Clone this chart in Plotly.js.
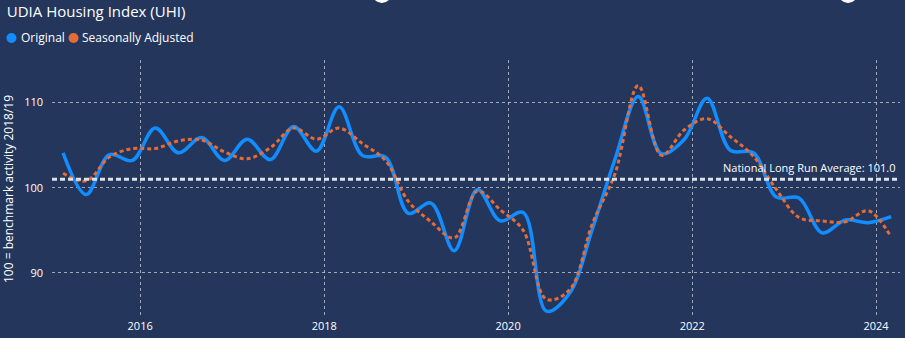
<!DOCTYPE html>
<html>
<head>
<meta charset="utf-8">
<script src="https://cdn.plot.ly/plotly-3.0.1.min.js"></script>
<style>
  html, body { margin: 0; padding: 0; background: #24365C; }
  #chart { width: 905px; height: 338px; }
</style>
</head>
<body>
<div id="chart"></div>
<script>
// Quarterly observation dates
const quarters = [
  '2015-03-01','2015-06-01','2015-09-01','2015-12-01',
  '2016-03-01','2016-06-01','2016-09-01','2016-12-01',
  '2017-03-01','2017-06-01','2017-09-01','2017-12-01',
  '2018-03-01','2018-06-01','2018-09-01','2018-12-01',
  '2019-03-01','2019-06-01','2019-09-01','2019-12-01',
  '2020-03-01','2020-06-01','2020-09-01','2020-12-01',
  '2021-03-01','2021-06-01','2021-09-01','2021-12-01',
  '2022-03-01','2022-06-01','2022-09-01','2022-12-01',
  '2023-03-01','2023-06-01','2023-09-01','2023-12-01',
  '2024-03-01'
];

// Original series
const original = [
  104.1, 99.2, 103.9, 103.2,
  107.0, 104.1, 105.9, 103.2,
  105.7, 103.3, 107.2, 104.3,
  109.5, 103.8, 103.6, 97.0,
  98.2, 92.6, 99.8, 96.1,
  97.1, 85.5, 87.6, 95.2,
  103.4, 110.7, 104.0, 105.7,
  110.5, 104.4, 104.1, 98.9,
  98.8, 94.7, 96.2, 95.9,
  96.6
];

// Seasonally adjusted series
const seasonallyAdjusted = [
  101.7, 100.8, 103.6, 104.6,
  104.6, 105.5, 105.6, 104.2,
  103.4, 104.7, 107.0, 105.7,
  107.0, 105.2, 103.2, 98.4,
  96.0, 94.1, 99.6, 97.4,
  95.0, 86.9, 88.0, 95.8,
  101.7, 112.0, 103.8, 106.8,
  108.1, 106.0, 103.7, 99.8,
  96.5, 96.1, 96.0, 97.3,
  94.2
];

const longRunAverage = 101.0;
const yTicks = [90, 100, 110];

const seriesNames = ['Original', 'Seasonally Adjusted'];
const seriesColors = ['#118DFF', '#E66C37'];

const FONT = 'Segoe UI, Open Sans, sans-serif';

const traces = [
  {
    x: quarters, y: original, name: seriesNames[0], type: 'scatter', mode: 'lines',
    line: { color: seriesColors[0], width: 3.5, shape: 'spline', smoothing: 1 },
    showlegend: false, hoverinfo: 'x+y+name'
  },
  {
    x: quarters, y: seasonallyAdjusted, name: seriesNames[1], type: 'scatter', mode: 'lines',
    line: { color: seriesColors[1], width: 3, shape: 'spline', smoothing: 1, dash: '4px,3px' },
    showlegend: false, hoverinfo: 'x+y+name'
  }
];

const layout = {
  width: 905, height: 338,
  paper_bgcolor: '#24365C', plot_bgcolor: '#24365C',
  margin: { l: 52, r: 5, t: 60, b: 20, pad: 0 },
  font: { family: FONT, color: '#FFFFFF', size: 11 },
  title: {
    text: 'UDIA Housing Index (UHI)',
    font: { family: FONT, size: 15, color: '#FFFFFF' },
    x: 0.0075, xanchor: 'left', xref: 'container',
    y: 0.965, yanchor: 'middle', yref: 'container'
  },
  xaxis: {
    type: 'date',
    range: ['2015-01-16', '2024-04-05'],
    tick0: '2016-01-01', dtick: 'M24', tickformat: '%Y',
    showgrid: true, gridcolor: 'rgba(200,205,215,0.75)', griddash: 'dot', gridwidth: 1,
    zeroline: false, showline: false, ticks: '',
    tickfont: { family: FONT, size: 11, color: '#FFFFFF' }
  },
  yaxis: {
    range: [84.7, 115.0],
    tickvals: yTicks,
    showgrid: true, gridcolor: 'rgba(200,205,215,0.75)', griddash: 'dot', gridwidth: 1,
    zeroline: false, showline: false, ticks: '',
    ticklabelstandoff: 8,
    tickfont: { family: FONT, size: 11, color: '#FFFFFF' },
    title: { text: '100 = benchmark activity 2018/19', standoff: 8,
             font: { family: FONT, size: 12, color: '#FFFFFF' } },
    automargin: false
  },
  shapes: [
    { type: 'line', xref: 'paper', x0: 0, x1: 1, yref: 'y', y0: longRunAverage, y1: longRunAverage,
      line: { color: '#DDE1E8', width: 3, dash: '5px,3px' }, layer: 'above' },
    // legend dots
    { type: 'circle', xref: 'paper', yref: 'paper', xsizemode: 'pixel', ysizemode: 'pixel',
      xanchor: -0.0478, yanchor: 1.0853, x0: -5, x1: 5, y0: -5, y1: 5,
      fillcolor: seriesColors[0], line: { width: 0 } },
    { type: 'circle', xref: 'paper', yref: 'paper', xsizemode: 'pixel', ysizemode: 'pixel',
      xanchor: 0.0254, yanchor: 1.0853, x0: -5, x1: 5, y0: -5, y1: 5,
      fillcolor: seriesColors[1], line: { width: 0 } },
    // header icons partially visible at the top edge
    { type: 'circle', xref: 'paper', yref: 'paper', xsizemode: 'pixel', ysizemode: 'pixel',
      xanchor: 0.389, yanchor: 1.26, x0: -10, x1: 10, y0: -10, y1: 10,
      fillcolor: '#FFFFFF', line: { width: 0 } },
    { type: 'circle', xref: 'paper', yref: 'paper', xsizemode: 'pixel', ysizemode: 'pixel',
      xanchor: 0.9387, yanchor: 1.26, x0: -10, x1: 10, y0: -10, y1: 10,
      fillcolor: '#FFFFFF', line: { width: 0 } }
  ],
  annotations: [
    { text: 'National Long Run Average: ' + longRunAverage.toFixed(1), xref: 'paper', yref: 'y',
      x: 0.997, y: longRunAverage, xanchor: 'right', yanchor: 'bottom', yshift: 2,
      showarrow: false, font: { family: FONT, size: 11, color: '#FFFFFF' } },
    { text: seriesNames[0], xref: 'paper', yref: 'paper', x: -0.0395, y: 1.0853,
      xanchor: 'left', yanchor: 'middle', showarrow: false,
      font: { family: FONT, size: 12, color: '#FFFFFF' } },
    { text: seriesNames[1], xref: 'paper', yref: 'paper', x: 0.0325, y: 1.0853,
      xanchor: 'left', yanchor: 'middle', showarrow: false,
      font: { family: FONT, size: 12, color: '#FFFFFF' } }
  ],
  showlegend: false
};

Plotly.newPlot('chart', traces, layout, { displayModeBar: false, staticPlot: false });
</script>
</body>
</html>
